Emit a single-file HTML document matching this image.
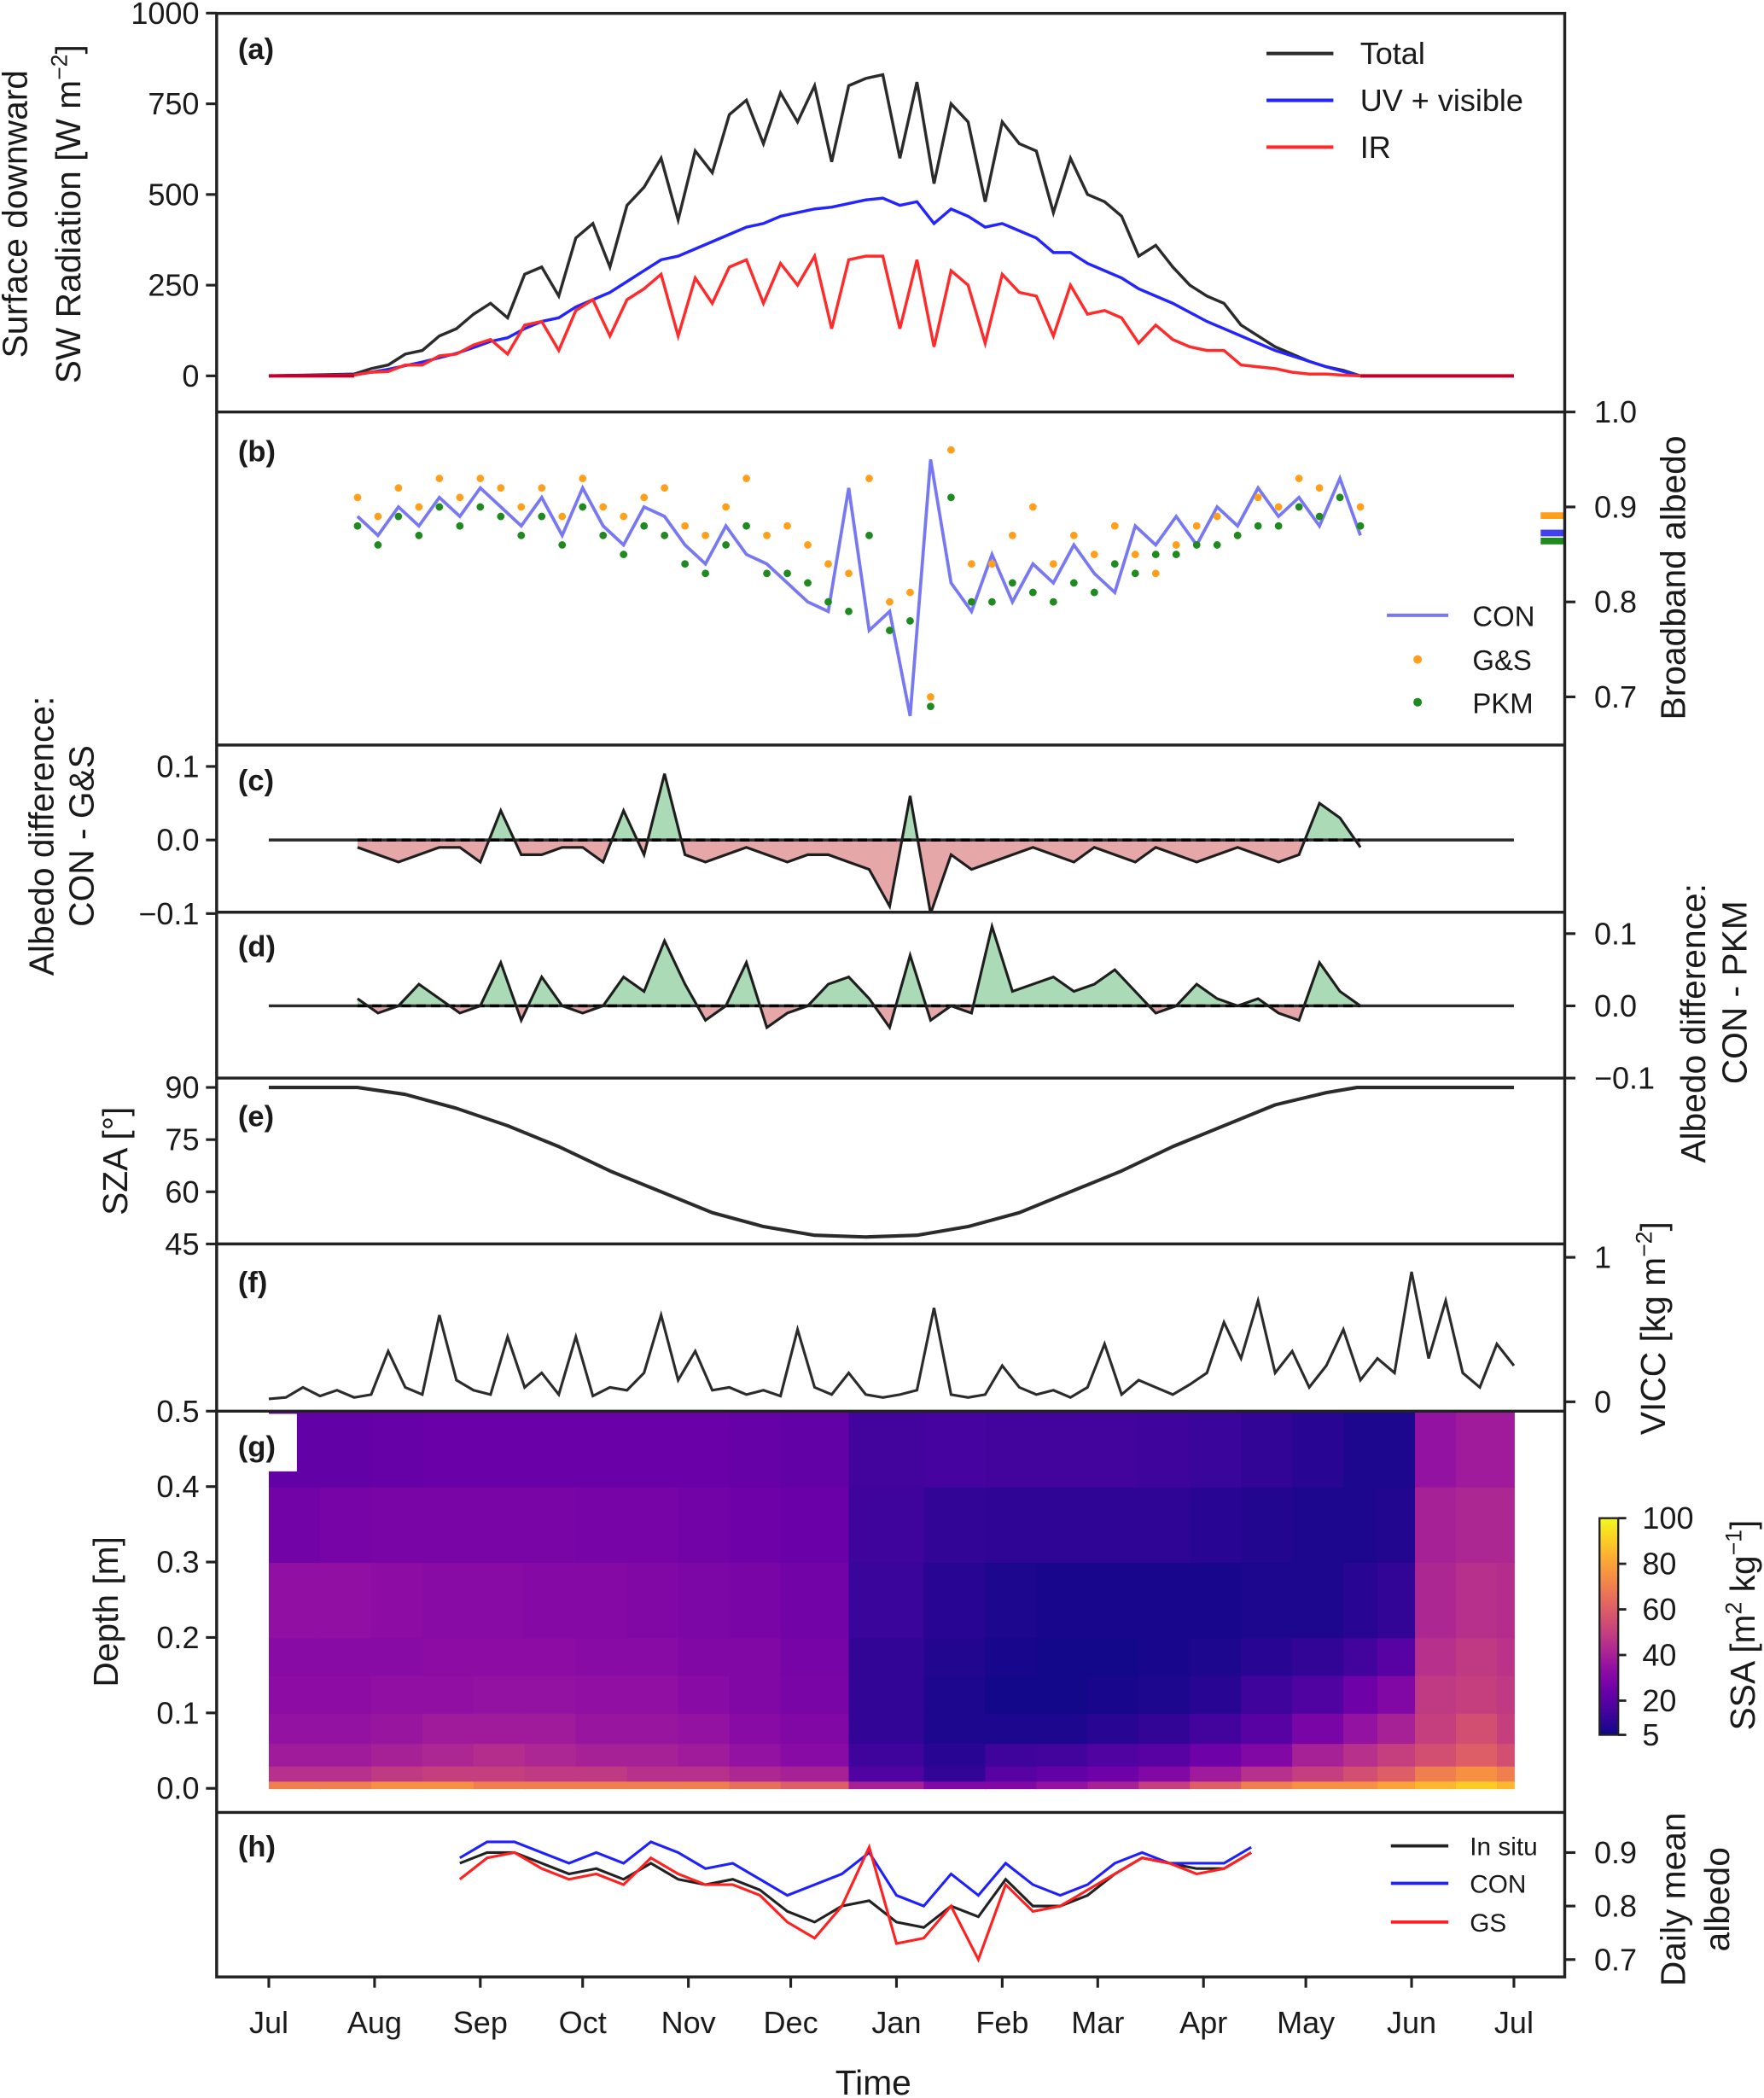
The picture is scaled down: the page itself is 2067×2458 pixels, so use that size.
<!DOCTYPE html>
<html><head><meta charset="utf-8"><style>
html,body{margin:0;padding:0;background:#fff}
svg{display:block}
text{font-family:"Liberation Sans",Arial,sans-serif;fill:#1a1a1a}
</style></head><body>
<svg id="chart" xmlns="http://www.w3.org/2000/svg" width="2067" height="2458" viewBox="0 0 1319 1568.5" preserveAspectRatio="none">
<defs>
<linearGradient id="cbgrad" x1="0" y1="1" x2="0" y2="0">
<stop offset="0" stop-color="#0d0887"/><stop offset="0.1" stop-color="#41049d"/><stop offset="0.2" stop-color="#6a00a8"/><stop offset="0.3" stop-color="#8f0da4"/><stop offset="0.4" stop-color="#b12a90"/><stop offset="0.5" stop-color="#cc4778"/><stop offset="0.6" stop-color="#e16462"/><stop offset="0.7" stop-color="#f2844b"/><stop offset="0.8" stop-color="#fca636"/><stop offset="0.9" stop-color="#fcce25"/><stop offset="1" stop-color="#f0f921"/>
</linearGradient>
<clipPath id="cPos"><rect x="162" y="557" width="1008" height="71"/></clipPath>
<clipPath id="cNeg"><rect x="162" y="628" width="1008" height="54"/></clipPath>
<clipPath id="dPos"><rect x="162" y="682" width="1008" height="70"/></clipPath>
<clipPath id="dNeg"><rect x="162" y="752" width="1008" height="54"/></clipPath>
<clipPath id="cClip"><rect x="162" y="557" width="1008" height="125"/></clipPath>
<clipPath id="dClip"><rect x="162" y="682" width="1008" height="124"/></clipPath>
</defs>
</svg>
<script>
// ---------- data ----------
const monthLabels = ["Jul","Aug","Sep","Oct","Nov","Dec","Jan","Feb","Mar","Apr","May","Jun","Jul"];
const monthDays = [0,31,62,92,123,153,184,215,243,274,304,335,365];

const radDays = [0,25,30,35,40,45,50,55,60,65,70,75,80,85,90,95,100,105,110,115,120,125,130,135,140,145,150,155,160,165,170,175,180,185,190,195,200,205,210,215,220,225,230,235,240,245,250,255,260,265,270,275,280,285,290,295,300,305,310,315,320,365];
const totalRad = [0,5,20,30,60,70,110,130,170,200,160,280,300,220,380,420,300,470,520,600,430,620,560,720,760,640,780,700,800,590,800,820,830,600,810,530,750,700,480,700,640,620,450,600,500,480,440,330,360,300,250,220,200,140,110,80,60,40,25,15,0,0];
const uvRad = [0,3,10,18,28,38,50,62,78,95,105,130,150,160,190,210,230,260,290,320,330,350,370,390,410,420,440,450,460,465,475,485,490,470,480,420,460,440,410,420,400,380,340,340,310,290,270,240,220,200,175,150,130,110,90,70,55,40,25,12,0,0];
const irRad = [0,2,10,12,30,30,55,60,85,100,60,140,150,70,180,210,110,210,240,280,110,270,200,300,320,200,310,250,330,130,320,330,330,130,320,80,290,250,90,280,230,220,110,250,170,180,160,90,140,100,80,70,70,30,25,20,10,5,5,2,0,0];

const albDays = [26,32,38,44,50,56,62,68,74,80,86,92,98,104,110,116,122,128,134,140,146,152,158,164,170,176,182,188,194,200,206,212,218,224,230,236,242,248,254,260,266,272,278,284,290,296,302,308,314,320];
const albCON = [.89,.87,.90,.88,.91,.89,.92,.90,.88,.91,.87,.92,.88,.86,.90,.89,.86,.84,.88,.85,.84,.82,.80,.79,.92,.77,.79,.68,.95,.82,.79,.85,.80,.84,.82,.86,.83,.81,.88,.86,.89,.86,.90,.88,.92,.89,.91,.88,.93,.87];
const albGS = [.91,.89,.92,.90,.93,.91,.93,.92,.90,.92,.89,.93,.90,.89,.91,.92,.88,.87,.90,.93,.87,.88,.86,.84,.83,.93,.80,.81,.70,.96,.84,.84,.87,.90,.84,.87,.85,.88,.85,.83,.86,.88,.89,.87,.91,.90,.93,.92,.91,.90];
const albPKM = [.88,.86,.89,.87,.90,.88,.90,.89,.87,.89,.86,.90,.87,.85,.88,.87,.84,.83,.86,.88,.83,.83,.82,.80,.79,.87,.77,.78,.69,.91,.80,.80,.82,.81,.80,.82,.81,.84,.83,.85,.85,.86,.86,.87,.88,.88,.90,.89,.91,.88];

const diffGS = [-.01,-.02,-.03,-.02,-.01,-.01,-.03,.04,-.02,-.02,-.01,-.01,-.03,.04,-.02,.09,-.02,-.03,-.02,-.01,-.02,-.03,-.02,-.02,-.03,-.04,-.09,.06,-.10,-.02,-.04,-.03,-.02,-.01,-.02,-.03,-.01,-.02,-.03,-.01,-.02,-.03,-.02,-.01,-.02,-.03,-.02,.05,.03,-.01];
const diffPKM = [.01,-.01,0,.03,.01,-.01,0,.06,-.02,.04,0,-.01,0,.04,.02,.09,.03,-.02,0,.06,-.03,-.01,0,.03,.04,.01,-.03,.07,-.02,0,-.01,.11,.02,.03,.04,.02,.03,.05,.02,-.01,0,.03,.01,0,.01,-.01,-.02,.06,.02,0];

const szaDays = [0,15,26,40,55,70,85,100,115,130,145,160,175,190,205,220,235,250,265,280,295,310,319,335,365];
const szaVals = [90,90,90,88,84,79,73,66,60,54,50,47.5,47,47.5,50,54,60,66,73,79,85,88.5,90,90,90];

const viccDays = [0,5,10,15,20,25,30,35,40,45,50,55,60,65,70,75,80,85,90,95,100,105,110,115,120,125,130,135,140,145,150,155,160,165,170,175,180,185,190,195,200,205,210,215,220,225,230,235,240,245,250,255,260,265,270,275,280,285,290,295,300,305,310,315,320,325,330,335,340,345,350,355,360,365];
const viccVals = [.02,.03,.1,.04,.08,.03,.05,.35,.1,.05,.6,.15,.08,.05,.45,.1,.2,.05,.45,.04,.1,.08,.2,.6,.15,.35,.08,.1,.05,.08,.04,.5,.1,.05,.2,.05,.03,.05,.08,.65,.05,.03,.05,.25,.1,.05,.08,.03,.1,.4,.05,.15,.1,.05,.12,.2,.55,.3,.7,.2,.35,.1,.25,.5,.15,.3,.2,.9,.3,.7,.2,.1,.4,.25];

const ssaDayEdges = [0,15,30,45,60,75,90,105,120,135,150,170,192,210,225,240,255,270,285,300,315,325,336,348,360,365];
const ssaDepthEdges = [0,0.01,0.03,0.06,0.1,0.15,0.2,0.3,0.4,0.5];
const ssaRow0 = [70,70,75,75,70,70,70,70,70,65,60,40,30,30,35,40,50,60,70,75,75,80,85,90,85];
const ssaRow1 = [45,45,48,50,50,48,48,45,45,42,40,18,12,20,22,25,30,38,45,50,55,60,70,75,70];
const ssaRow2 = [38,38,40,42,44,42,40,40,38,35,32,14,10,14,15,18,20,25,30,40,45,50,55,60,55];
const ssaRow3 = [35,35,36,38,38,38,36,36,35,32,30,12,8,8,8,10,12,15,20,28,35,40,50,55,50];
const ssaRow4 = [33,33,34,34,35,35,34,34,32,30,28,12,8,6,6,7,8,10,14,18,25,30,48,50,48];
const ssaRow5 = [32,32,32,33,33,33,32,32,30,30,27,12,9,7,6,6,7,8,10,12,15,20,45,48,46];
const ssaRow6 = [34,34,33,32,32,31,31,30,29,28,26,13,10,8,7,7,7,7,8,8,10,12,42,45,44];
const ssaRow7 = [26,27,28,28,28,28,27,27,26,25,24,14,12,11,11,11,11,10,9,8,8,9,40,42,42];
const ssaRow8 = [22,22,23,24,24,24,24,24,24,23,22,15,16,15,15,15,14,13,12,10,8,8,35,38,38];
const ssaRows = [ssaRow0,ssaRow1,ssaRow2,ssaRow3,ssaRow4,ssaRow5,ssaRow6,ssaRow7,ssaRow8];
const cbTicks = [5,20,40,60,80,100];

const dailyDays = [56,64,72,80,88,96,104,112,120,128,136,144,152,160,168,176,184,192,200,208,216,224,232,240,248,256,264,272,280,288];
const dailyInSitu = [.88,.90,.90,.88,.86,.87,.85,.88,.85,.84,.85,.83,.79,.77,.80,.81,.77,.76,.80,.78,.85,.80,.80,.82,.86,.89,.88,.87,.87,.90];
const dailyCON = [.89,.92,.92,.90,.88,.90,.88,.92,.90,.87,.88,.85,.82,.84,.86,.90,.82,.80,.86,.82,.88,.84,.82,.84,.88,.90,.88,.88,.88,.91];
const dailyGS = [.85,.89,.90,.87,.85,.86,.84,.89,.86,.84,.84,.82,.77,.74,.80,.91,.73,.74,.80,.70,.84,.79,.80,.83,.86,.89,.88,.86,.87,.90];

// ---------- helpers ----------
const svg = document.getElementById('chart');
const NS = 'http://www.w3.org/2000/svg';
function add(tag, attrs, name, parent) {
  const e = document.createElementNS(NS, tag);
  for (const k in attrs) e.setAttribute(k, attrs[k]);
  
  
  (parent || svg).appendChild(e);
  return e;
}
function txt(x, y, s, name, opts) {
  const o = Object.assign({x: x, y: y, 'font-size': 23}, opts || {});
  const t = add('text', o, name);
  t.textContent = s;
  return t;
}
const X = d => 201 + d * 2.5507;
const L = 162, R = 1170;
function pathD(days, vals, yf) {
  return days.map((d, i) => (i ? 'L' : 'M') + X(d).toFixed(2) + ' ' + yf(vals[i]).toFixed(2)).join(' ');
}

const yA = v => 281 - v * 0.2712;
const yB = v => 308 + (1.0 - v) * 710;
const yC = v => 628 - v * 550;
const yD = v => 752 - v * 540;
const yE = v => 813 + (90 - v) * (117 / 45);
const yF = v => 1048 - v * 108;
const yG = v => 1337 - v * 564;
const yH = v => 1385 + (0.9 - v) * 400;

// ---------- heatmap (g) ----------
const plasma = ["#0d0887","#41049d","#6a00a8","#8f0da4","#b12a90","#cc4778","#e16462","#f2844b","#fca636","#fcce25","#f0f921"];
function hex2rgb(h){return [parseInt(h.substr(1,2),16),parseInt(h.substr(3,2),16),parseInt(h.substr(5,2),16)];}
function cmap(v) {
  let t = Math.max(0, Math.min(1, (v - 5) / 95)) * 10;
  const i = Math.min(9, Math.floor(t)), f = t - i;
  const a = hex2rgb(plasma[i]), b = hex2rgb(plasma[i + 1]);
  return 'rgb(' + a.map((c, k) => Math.round(c + (b[k] - c) * f)).join(',') + ')';
}
const heat = add('g', {}, 'ssa-heatmap');
ssaRows.forEach((row, r) => {
  row.forEach((v, c) => {
    const x0 = X(ssaDayEdges[c]), x1 = X(ssaDayEdges[c + 1]);
    const yTop = yG(ssaDepthEdges[r + 1]), yBot = yG(ssaDepthEdges[r]);
    add('rect', {x: x0, y: yTop, width: x1 - x0 + 0.6, height: yBot - yTop + 0.6, fill: cmap(v)}, 'heatmap-cell', heat);
  });
});
add('rect', {x: 163, y: 1057, width: 59, height: 43, fill: '#fff'}, 'panel-g-label-box');

// ---------- panel a ----------
add('path', {d: pathD(radDays, totalRad, yA), fill: 'none', stroke: '#2b2b2b', 'stroke-width': 2.2}, 'total-radiation-line');
add('path', {d: pathD(radDays, uvRad, yA), fill: 'none', stroke: '#2424ff', 'stroke-width': 2.2}, 'uv-visible-line');
add('path', {d: pathD(radDays, irRad, yA), fill: 'none', stroke: '#ff2a2a', 'stroke-width': 2.2}, 'ir-line');
add('line', {x1: X(0), y1: yA(0), x2: X(25), y2: yA(0), stroke: '#c0002a', 'stroke-width': 2.6}, 'zero-flat-start');
add('line', {x1: X(320), y1: yA(0), x2: X(365), y2: yA(0), stroke: '#c0002a', 'stroke-width': 2.6}, 'zero-flat-end');
[['Total','#2b2b2b',40],['UV + visible','#2424ff',75],['IR','#ff2a2a',110]].forEach(l => {
  add('line', {x1: 947, y1: l[2], x2: 997, y2: l[2], stroke: l[1], 'stroke-width': 2.6}, 'legend-a-swatch');
  txt(1017, l[2] + 8, l[0], 'legend-a-label');
});

// ---------- panel b ----------
add('path', {d: pathD(albDays, albCON, yB), fill: 'none', stroke: '#7878f2', 'stroke-width': 2.4}, 'con-albedo-line');
albDays.forEach((d, i) => {
  add('circle', {cx: X(d), cy: yB(albGS[i]), r: 2.8, fill: '#ff9f1c'}, 'gs-albedo-point');
});
albDays.forEach((d, i) => {
  add('circle', {cx: X(d), cy: yB(albPKM[i]), r: 2.8, fill: '#1f8a1f'}, 'pkm-albedo-point');
});
add('rect', {x: 1152, y: 383, width: 18, height: 5, fill: '#ff9f1c'}, 'gs-mean-marker');
add('rect', {x: 1152, y: 396, width: 18, height: 5, fill: '#4040ee'}, 'con-mean-marker');
add('rect', {x: 1152, y: 402, width: 18, height: 5, fill: '#1f8a1f'}, 'pkm-mean-marker');
add('line', {x1: 1037, y1: 460, x2: 1083, y2: 460, stroke: '#7878f2', 'stroke-width': 2.6}, 'legend-b-con-swatch');
add('circle', {cx: 1060, cy: 493, r: 3.2, fill: '#ff9f1c'}, 'legend-b-gs-swatch');
add('circle', {cx: 1060, cy: 525, r: 3.2, fill: '#1f8a1f'}, 'legend-b-pkm-swatch');
txt(1101, 468, 'CON', 'legend-b-label', {'font-size': 21});
txt(1101, 501, 'G&S', 'legend-b-label', {'font-size': 21});
txt(1101, 533, 'PKM', 'legend-b-label', {'font-size': 21});

// ---------- panels c, d ----------
function diffPanel(vals, yf, pos, neg, clip, tag) {
  const first = albDays[0], last = albDays[albDays.length - 1];
  const area = pathD(albDays, vals, yf) + ' L' + X(last) + ' ' + yf(0) + ' L' + X(first) + ' ' + yf(0) + ' Z';
  add('path', {d: area, fill: '#8fce9f', opacity: 0.75, 'clip-path': 'url(#' + pos + ')'}, tag + '-positive-fill');
  add('path', {d: area, fill: '#dc8a8a', opacity: 0.75, 'clip-path': 'url(#' + neg + ')'}, tag + '-negative-fill');
  add('line', {x1: X(0), y1: yf(0), x2: X(365), y2: yf(0), stroke: '#2b2b2b', 'stroke-width': 2.2}, tag + '-zero-line');
  add('line', {x1: X(first), y1: yf(0), x2: X(last), y2: yf(0), stroke: '#000', 'stroke-width': 2.2, 'stroke-dasharray': '7 4'}, tag + '-dashed-zero');
  add('path', {d: pathD(albDays, vals, yf), fill: 'none', stroke: '#1e1e1e', 'stroke-width': 2, 'clip-path': 'url(#' + clip + ')'}, tag + '-line');
}
diffPanel(diffGS, yC, 'cPos', 'cNeg', 'cClip', 'diff-gs');
diffPanel(diffPKM, yD, 'dPos', 'dNeg', 'dClip', 'diff-pkm');

// ---------- panel e ----------
add('path', {d: pathD(szaDays, szaVals, yE), fill: 'none', stroke: '#2b2b2b', 'stroke-width': 2.6, 'stroke-linejoin': 'round'}, 'sza-line');
// ---------- panel f ----------
add('path', {d: pathD(viccDays, viccVals, yF), fill: 'none', stroke: '#2b2b2b', 'stroke-width': 2}, 'vicc-line');
// ---------- panel h ----------
add('path', {d: pathD(dailyDays, dailyInSitu, yH), fill: 'none', stroke: '#222', 'stroke-width': 2}, 'insitu-daily-line');
add('path', {d: pathD(dailyDays, dailyCON, yH), fill: 'none', stroke: '#2020ff', 'stroke-width': 2}, 'con-daily-line');
add('path', {d: pathD(dailyDays, dailyGS, yH), fill: 'none', stroke: '#ff2020', 'stroke-width': 2}, 'gs-daily-line');
[['In situ','#222',1380],['CON','#2020ff',1408],['GS','#ff2020',1437]].forEach(l => {
  add('line', {x1: 1040, y1: l[2], x2: 1083, y2: l[2], stroke: l[1], 'stroke-width': 2.4}, 'legend-h-swatch');
  txt(1099, l[2] + 7, l[0], 'legend-h-label', {'font-size': 19});
});

// ---------- frames ----------
add('rect', {x: L, y: 10, width: R - L, height: 1468, fill: 'none', stroke: '#222', 'stroke-width': 2.2}, 'figure-frame');
[308, 557, 682, 806, 930, 1055, 1355].forEach(y => {
  add('line', {x1: L, y1: y, x2: R, y2: y, stroke: '#222', 'stroke-width': 2.2}, 'panel-separator');
});
['(a)',36,'(b)',337,'(c)',583,'(d)',707,'(e)',834,'(f)',958,'(g)',1081,'(h)',1380].forEach((v, i, a) => {
  if (i % 2) return;
  txt(178, a[i + 1] + 8, v, 'panel-label', {'font-weight': 'bold', 'font-size': 22});
});

// ---------- ticks ----------
function leftTicks(vals, labels, yf, name) {
  vals.forEach((v, i) => {
    add('line', {x1: L - 8, y1: yf(v), x2: L, y2: yf(v), stroke: '#222', 'stroke-width': 2}, name + '-tick');
    txt(L - 13, yf(v) + 8, labels[i], name + '-tick-label', {'text-anchor': 'end'});
  });
}
function rightTicks(vals, labels, yf, name) {
  vals.forEach((v, i) => {
    add('line', {x1: R, y1: yf(v), x2: R + 8, y2: yf(v), stroke: '#222', 'stroke-width': 2}, name + '-tick');
    txt(R + 22, yf(v) + 8, labels[i], name + '-tick-label');
  });
}
leftTicks([0,250,500,750,1000], ['0','250','500','750','1000'], yA, 'radiation');
rightTicks([1.0,0.9,0.8,0.7], ['1.0','0.9','0.8','0.7'], yB, 'albedo');
leftTicks([0.1,0,-0.1], ['0.1','0.0','\u22120.1'], yC, 'diff-gs');
rightTicks([0.1,0,-0.1], ['0.1','0.0','\u22120.1'], yD, 'diff-pkm');
leftTicks([90,75,60,45], ['90','75','60','45'], yE, 'sza');
rightTicks([1,0], ['1','0'], yF, 'vicc');
leftTicks([0,0.1,0.2,0.3,0.4,0.5], ['0.0','0.1','0.2','0.3','0.4','0.5'], yG, 'depth');
rightTicks([0.9,0.8,0.7], ['0.9','0.8','0.7'], yH, 'daily-albedo');
monthDays.forEach((d, i) => {
  add('line', {x1: X(d), y1: 1478, x2: X(d), y2: 1486, stroke: '#222', 'stroke-width': 2}, 'x-tick');
  txt(X(d), 1520, monthLabels[i], 'x-tick-label', {'text-anchor': 'middle'});
});

// ---------- colorbar ----------
add('rect', {x: 1196, y: 1135, width: 14, height: 162, fill: 'url(#cbgrad)'}, 'ssa-colorbar');
add('rect', {x: 1196, y: 1135, width: 14, height: 162, fill: 'none', stroke: '#222', 'stroke-width': 1.5}, 'ssa-colorbar-frame');
cbTicks.forEach(v => {
  const y = 1297 - (v - 5) / 95 * 162;
  add('line', {x1: 1210, y1: y, x2: 1216, y2: y, stroke: '#222', 'stroke-width': 1.8}, 'colorbar-tick');
  txt(1228, y + 8, String(v), 'colorbar-tick-label');
});

// ---------- axis titles ----------
function vtitle(x, y, s, name, size) {
  const t = txt(x, y, s, name, {'text-anchor': 'middle', 'font-size': size || 26, transform: 'rotate(-90 ' + x + ' ' + y + ')'});
  return t;
}
vtitle(20, 160, 'Surface downward', 'y-axis-title-radiation-1');
const t2 = vtitle(60, 160, '', 'y-axis-title-radiation-2');
t2.innerHTML = 'SW Radiation [W m<tspan dy="-10" font-size="17">\u22122</tspan><tspan dy="10">]</tspan>';
vtitle(1260, 432, 'Broadband albedo', 'y-axis-title-albedo');
vtitle(40, 625, 'Albedo difference:', 'y-axis-title-diff-gs-1');
vtitle(70, 625, 'CON - G&S', 'y-axis-title-diff-gs-2');
vtitle(1275, 765, 'Albedo difference:', 'y-axis-title-diff-pkm-1');
vtitle(1306, 742, 'CON - PKM', 'y-axis-title-diff-pkm-2');
vtitle(95, 868, 'SZA [\u00b0]', 'y-axis-title-sza');
const tv = vtitle(1245, 993, '', 'y-axis-title-vicc');
tv.innerHTML = 'VICC [kg m<tspan dy="-10" font-size="17">\u22122</tspan><tspan dy="10">]</tspan>';
vtitle(88, 1205, 'Depth [m]', 'y-axis-title-depth');
const ts = vtitle(1312, 1215, '', 'colorbar-title-ssa');
ts.innerHTML = 'SSA [m<tspan dy="-10" font-size="17">2</tspan><tspan dy="10"> kg</tspan><tspan dy="-10" font-size="17">\u22121</tspan><tspan dy="10">]</tspan>';
vtitle(1260, 1420, 'Daily mean', 'y-axis-title-daily-1');
vtitle(1293, 1420, 'albedo', 'y-axis-title-daily-2');
txt(653, 1566, 'Time', 'x-axis-title', {'text-anchor': 'middle', 'font-size': 26});
</script>
</body></html>
